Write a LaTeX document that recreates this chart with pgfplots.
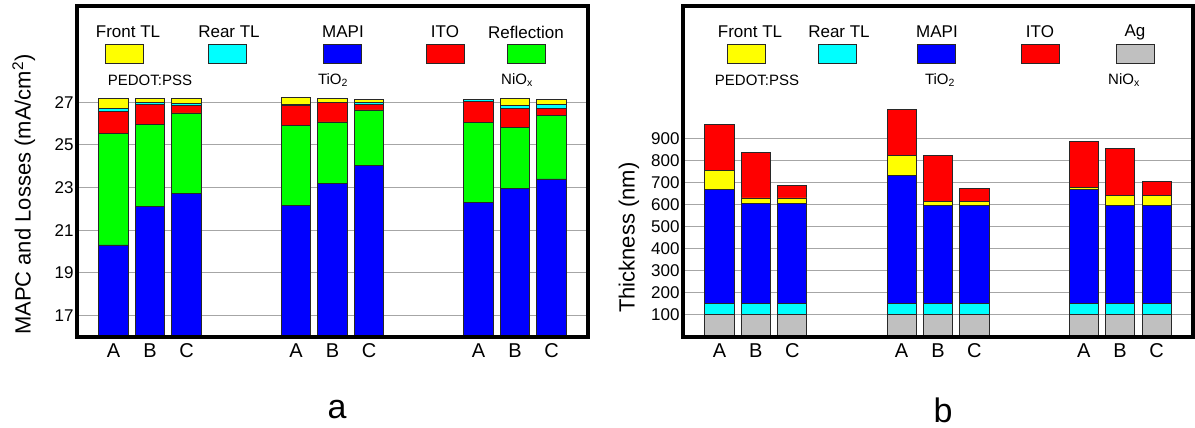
\documentclass[border=0pt]{standalone}
\usepackage{fontspec}
\setmainfont{Liberation Sans}
\usepackage{pgfplots}
\pgfplotsset{compat=1.18}

\definecolor{cYel}{RGB}{255,255,0}
\definecolor{cCya}{RGB}{0,255,255}
\definecolor{cBlu}{RGB}{0,0,255}
\definecolor{cRed}{RGB}{255,0,0}
\definecolor{cGrn}{RGB}{0,255,0}
\definecolor{cGry}{RGB}{192,192,192}
\definecolor{edge}{RGB}{40,40,40}

\pgfplotsset{
  panel/.style={
    scale only axis, width=511pt, height=331pt,
    xmin=-1, xmax=13,
    ybar stacked, bar width=0.8,
    xtick={0,1,2,5,6,7,10,11,12},
    xticklabels={A,B,C,A,B,C,A,B,C},
    major tick length=0pt,
    ymajorgrids, grid style={black!35, line width=0.9pt},
    axis line style={draw=none},
    /pgf/number format/assume math mode=true,
    yticklabel style={font=\fontsize{17}{17}\selectfont},
    xticklabel style={font=\fontsize{20}{20}\selectfont, yshift=-3pt},
    every axis plot/.append style={draw=edge, line width=0.9pt},
  },
}
\tikzset{
  swatch/.style={draw=edge, line width=0.9pt, minimum width=38pt, minimum height=19pt, inner sep=0pt},
  legtext/.style={font=\fontsize{17}{17}\selectfont},
  subtext/.style={font=\fontsize{15}{15}\selectfont},
}

\begin{document}
\begin{tikzpicture}
\path[use as bounding box] (0pt,0pt) rectangle (1195pt,428pt);

% ---------------- (a) current density and losses ----------------
\begin{axis}[panel, name=pa, at={(77pt,91pt)}, anchor=south west,
  ymin=16, ymax=31.5, ytick={17,19,...,27},
  ylabel={MAPC and Losses (mA/cm\textsuperscript{2})},
  ylabel style={font=\fontsize{22}{22}\selectfont, at={(axis description cs:-0.104,0.43)}, anchor=center}]
% MAPI
\addplot[fill=cBlu] coordinates {(0,20.31) (1,22.10) (2,22.74) (5,22.17) (6,23.21) (7,24.02) (10,22.30) (11,22.97) (12,23.40)};
% Reflection
\addplot[fill=cGrn] coordinates {(0,5.24) (1,3.86) (2,3.75) (5,3.73) (6,2.86) (7,2.61) (10,3.75) (11,2.85) (12,2.98)};
% ITO
\addplot[fill=cRed] coordinates {(0,0.99) (1,0.92) (2,0.36) (5,0.92) (6,0.89) (7,0.27) (10,0.96) (11,0.88) (12,0.30)};
% Rear TL
\addplot[fill=cCya] coordinates {(0,0.14) (1,0.08) (2,0.09) (5,0.06) (6,0.04) (7,0.10) (10,0.10) (11,0.15) (12,0.19)};
% Front TL
\addplot[fill=cYel] coordinates {(0,0.50) (1,0.19) (2,0.21) (5,0.32) (6,0.15) (7,0.14) (10,0.03) (11,0.30) (12,0.25)};
\end{axis}
\draw[line width=3.3pt] (pa.south west) rectangle (pa.north east);

% ---------------- (b) layer thickness ----------------
\begin{axis}[panel, name=pb, at={(683pt,91pt)}, anchor=south west, width=510pt,
  ymin=0, ymax=1500, ytick={100,200,...,900},
  ylabel={Thickness (nm)},
  ylabel style={font=\fontsize{22}{22}\selectfont, at={(axis description cs:-0.106,0.30)}, anchor=center}]
% Ag
\addplot[fill=cGry] coordinates {(0,100) (1,100) (2,100) (5,100) (6,100) (7,100) (10,100) (11,100) (12,100)};
% Rear TL
\addplot[fill=cCya] coordinates {(0,50) (1,50) (2,50) (5,50) (6,50) (7,50) (10,50) (11,50) (12,50)};
% MAPI
\addplot[fill=cBlu] coordinates {(0,520) (1,454) (2,454) (5,584) (6,447) (7,447) (10,520) (11,445) (12,445)};
% Front TL
\addplot[fill=cYel] coordinates {(0,83) (1,26) (2,26) (5,87) (6,16) (7,16) (10,8) (11,47) (12,47)};
% ITO
\addplot[fill=cRed] coordinates {(0,210) (1,208) (2,57) (5,211) (6,210) (7,60) (10,210) (11,211) (12,62)};
\end{axis}
\draw[line width=3.3pt] (pb.south west) rectangle (pb.north east);

% ---------------- legends ----------------
\node[legtext] at (128pt,396pt) {Front TL};
\node[legtext] at (229pt,396pt) {Rear TL};
\node[legtext] at (343pt,396pt) {MAPI};
\node[legtext] at (445pt,396pt) {ITO};
\node[legtext] at (526pt,396pt) {Reflection};
\node[swatch, fill=cYel] at (124pt,374.5pt) {};
\node[swatch, fill=cCya] at (227pt,374.5pt) {};
\node[swatch, fill=cBlu] at (342pt,374.5pt) {};
\node[swatch, fill=cRed] at (445pt,374.5pt) {};
\node[swatch, fill=cGrn] at (526pt,374.5pt) {};
\node[subtext] at (150pt,348pt) {PEDOT:PSS};
\node[subtext] at (333pt,348pt) {TiO\textsubscript{2}};
\node[subtext] at (517pt,348pt) {NiO\textsubscript{x}};

\node[legtext] at (750pt,396pt) {Front TL};
\node[legtext] at (839pt,396pt) {Rear TL};
\node[legtext] at (937pt,396pt) {MAPI};
\node[legtext] at (1040pt,396pt) {ITO};
\node[legtext] at (1135pt,396pt) {Ag};
\node[swatch, fill=cYel] at (746pt,374.5pt) {};
\node[swatch, fill=cCya] at (837pt,374.5pt) {};
\node[swatch, fill=cBlu] at (936pt,374.5pt) {};
\node[swatch, fill=cRed] at (1040.5pt,374.5pt) {};
\node[swatch, fill=cGry] at (1135pt,374.5pt) {};
\node[subtext] at (757pt,348pt) {PEDOT:PSS};
\node[subtext] at (940pt,348pt) {TiO\textsubscript{2}};
\node[subtext] at (1124pt,348pt) {NiO\textsubscript{x}};

% panel letters
\node[font=\fontsize{34}{34}\selectfont] at (337pt,18pt) {a};
\node[font=\fontsize{34}{34}\selectfont] at (943pt,18pt) {b};
\end{tikzpicture}
\end{document}
